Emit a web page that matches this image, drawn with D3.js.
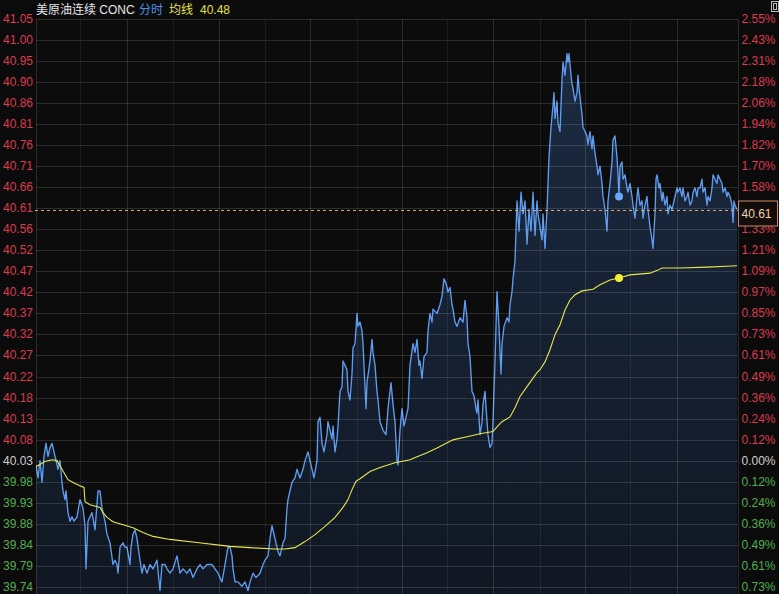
<!DOCTYPE html>
<html><head><meta charset="utf-8">
<script src="https://cdn.jsdelivr.net/npm/d3@7"></script>
<style>
html,body{margin:0;padding:0;background:#0b0b0b;}
svg{display:block;}
</style></head>
<body>
<svg id="chart" width="779" height="594"></svg>
<script>
// ---------- data ----------
const titleName = "美原油连续 CONC";
const titleMode = "分时";
const titleAvgLabel = "均线";
const prevClose = 40.03;
const levelsAbove = 21, levelsBelow = 6;
const priceTickLabels = ["41.05","41.00","40.95","40.90","40.86","40.81","40.76","40.71","40.66","40.61","40.56","40.52","40.47","40.42","40.37","40.32","40.27","40.22","40.18","40.13","40.08","40.03","39.98","39.93","39.88","39.84","39.79","39.74"];
const pctTickLabels = ["2.55%","2.43%","2.31%","2.18%","2.06%","1.94%","1.82%","1.70%","1.58%","1.46%","1.33%","1.21%","1.09%","0.97%","0.85%","0.73%","0.61%","0.49%","0.36%","0.24%","0.12%","0.00%","0.12%","0.24%","0.36%","0.49%","0.61%","0.73%"];
const sessionLength = 701;
const gridTimes = [0,44,91,137,183,229,274,321,366,411,457,504,549,594,641];
const markerTime = 583;

// [minute, price]
const priceSeries = [[0,40.02],[2,39.99],[4,40.03],[6,39.98],[8,40.04],[10,40.07],[12,40.04],[14,40.06],[16,40.07],[18,40.05],[20,40.03],[22,40.01],[24,40.03],[26,39.98],[27,39.96],[29,39.94],[30,39.96],[32,39.91],[34,39.89],[36,39.90],[38,39.89],[41,39.90],[44,39.94],[47,39.92],[49,39.88],[50,39.78],[52,39.89],[54,39.90],[56,39.91],[59,39.87],[62,39.96],[64,39.96],[66,39.92],[69,39.89],[71,39.86],[74,39.84],[77,39.79],[79,39.80],[81,39.79],[82,39.77],[84,39.83],[87,39.84],[89,39.83],[91,39.83],[94,39.79],[95,39.83],[97,39.86],[99,39.87],[101,39.85],[104,39.80],[106,39.77],[108,39.79],[111,39.77],[114,39.79],[117,39.78],[121,39.80],[124,39.73],[126,39.79],[129,39.79],[131,39.78],[134,39.77],[137,39.78],[141,39.81],[144,39.77],[147,39.78],[151,39.77],[154,39.78],[157,39.76],[161,39.78],[164,39.79],[167,39.78],[171,39.79],[176,39.79],[179,39.78],[182,39.77],[186,39.75],[189,39.79],[192,39.83],[194,39.83],[196,39.81],[197,39.78],[199,39.75],[202,39.75],[206,39.74],[209,39.75],[212,39.73],[214,39.75],[217,39.77],[220,39.76],[224,39.77],[227,39.79],[229,39.80],[232,39.81],[234,39.85],[236,39.88],[238,39.86],[240,39.84],[242,39.82],[244,39.81],[247,39.84],[249,39.85],[251,39.92],[252,39.94],[254,39.96],[256,39.98],[259,39.99],[261,40.01],[264,39.99],[267,40.01],[269,40.03],[272,40.05],[274,40.03],[276,40.01],[278,39.99],[281,40.03],[282,40.12],[284,40.13],[286,40.07],[288,40.05],[291,40.09],[292,40.12],[294,40.10],[296,40.08],[297,40.11],[299,40.05],[301,40.08],[302,40.11],[304,40.19],[306,40.20],[307,40.26],[309,40.25],[311,40.24],[312,40.19],[314,40.17],[316,40.23],[317,40.29],[319,40.30],[321,40.37],[322,40.34],[324,40.35],[326,40.33],[327,40.30],[329,40.20],[330,40.15],[331,40.21],[334,40.26],[336,40.31],[337,40.28],[339,40.25],[341,40.19],[342,40.17],[344,40.12],[347,40.10],[350,40.09],[352,40.15],[355,40.21],[357,40.16],[359,40.12],[361,40.03],[362,40.02],[364,40.10],[366,40.15],[368,40.11],[370,40.13],[372,40.15],[374,40.25],[377,40.30],[379,40.28],[381,40.31],[383,40.25],[384,40.26],[386,40.22],[388,40.27],[391,40.28],[392,40.33],[394,40.37],[396,40.35],[397,40.38],[401,40.37],[404,40.39],[406,40.41],[408,40.45],[410,40.44],[412,40.42],[414,40.43],[416,40.39],[417,40.38],[419,40.35],[421,40.34],[424,40.36],[427,40.35],[429,40.40],[431,40.36],[432,40.30],[434,40.27],[436,40.19],[438,40.18],[440,40.15],[441,40.14],[442,40.17],[444,40.09],[446,40.12],[447,40.16],[449,40.19],[451,40.12],[452,40.09],[454,40.06],[456,40.07],[457,40.12],[459,40.26],[461,40.42],[463,40.34],[465,40.23],[466,40.30],[468,40.34],[471,40.36],[473,40.35],[474,40.39],[476,40.42],[477,40.45],[479,40.49],[481,40.63],[483,40.56],[485,40.65],[487,40.60],[489,40.63],[491,40.53],[493,40.61],[495,40.56],[497,40.65],[499,40.55],[501,40.63],[502,40.60],[504,40.57],[506,40.54],[507,40.60],[509,40.52],[511,40.61],[513,40.73],[515,40.80],[517,40.85],[518,40.88],[519,40.82],[521,40.86],[522,40.81],[524,40.79],[526,40.91],[527,40.95],[529,40.92],[531,40.97],[532,40.95],[533,40.97],[535,40.92],[536,40.90],[537,40.89],[539,40.86],[541,40.88],[542,40.92],[543,40.89],[545,40.85],[546,40.83],[547,40.80],[549,40.79],[551,40.78],[552,40.76],[554,40.79],[556,40.75],[557,40.78],[559,40.74],[561,40.71],[562,40.69],[564,40.71],[566,40.67],[567,40.64],[569,40.61],[571,40.56],[572,40.63],[574,40.67],[576,40.72],[577,40.77],[579,40.78],[581,40.73],[582,40.69],[583,40.64],[584,40.71],[586,40.72],[587,40.68],[589,40.69],[591,40.66],[592,40.65],[594,40.67],[596,40.64],[597,40.62],[599,40.59],[601,40.64],[602,40.66],[604,40.62],[606,40.63],[607,40.59],[609,40.62],[611,40.64],[612,40.61],[614,40.57],[616,40.54],[617,40.52],[619,40.60],[620,40.68],[621,40.69],[623,40.66],[624,40.67],[626,40.63],[627,40.65],[629,40.62],[631,40.64],[632,40.60],[634,40.62],[636,40.61],[637,40.62],[639,40.64],[641,40.66],[642,40.65],[644,40.66],[646,40.64],[647,40.66],[649,40.63],[651,40.64],[652,40.65],[654,40.62],[656,40.63],[657,40.65],[659,40.66],[661,40.64],[662,40.66],[664,40.66],[666,40.68],[667,40.65],[669,40.66],[671,40.62],[672,40.64],[674,40.63],[676,40.66],[677,40.69],[679,40.68],[681,40.67],[682,40.69],[684,40.68],[686,40.67],[687,40.65],[689,40.66],[691,40.64],[692,40.65],[694,40.64],[696,40.62],[697,40.58],[698,40.63],[699,40.62],[701,40.61]];

// [minute, average price]
const avgSeries = [[0,40.016],[9,40.028],[16,40.032],[21,40.030],[24,40.018],[29,39.998],[32,39.986],[39,39.977],[44,39.972],[48,39.968],[49,39.935],[54,39.928],[64,39.922],[67,39.910],[71,39.899],[77,39.889],[87,39.882],[97,39.875],[107,39.864],[117,39.855],[134,39.848],[161,39.841],[194,39.832],[214,39.829],[239,39.826],[249,39.826],[259,39.829],[269,39.843],[279,39.859],[289,39.878],[299,39.899],[307,39.922],[312,39.940],[316,39.963],[320,39.982],[324,39.988],[334,40.005],[344,40.014],[359,40.025],[374,40.032],[381,40.039],[391,40.048],[401,40.059],[417,40.078],[431,40.085],[444,40.092],[457,40.097],[461,40.108],[466,40.120],[474,40.131],[479,40.152],[484,40.178],[491,40.201],[501,40.233],[504,40.240],[509,40.258],[514,40.286],[519,40.321],[524,40.344],[529,40.378],[534,40.401],[539,40.413],[546,40.422],[557,40.426],[564,40.436],[574,40.447],[583,40.452],[594,40.459],[614,40.463],[622,40.470],[626,40.475],[644,40.475],[671,40.477],[691,40.479],[701,40.480]];

// ---------- layout ----------
const W = 779, H = 594;
const plotLeft = 36, plotRight = 738, plotTop = 19, gridBottom = 586.8, plotBottom = H;
const step = (41.05 - prevClose) / levelsAbove;

const svg = d3.select("#chart");
svg.append("rect").attr("width", W).attr("height", H).attr("fill", "#0b0b0b");

const x = d3.scaleLinear().domain([0, sessionLength]).range([plotLeft, plotRight - 1]);
const y = d3.scaleLinear()
  .domain([prevClose - levelsBelow * step, prevClose + levelsAbove * step])
  .range([gridBottom, plotTop]);

const defs = svg.append("defs");
const grad = defs.append("linearGradient").attr("id", "areaGrad")
  .attr("gradientUnits", "userSpaceOnUse").attr("x1", 0).attr("x2", 0).attr("y1", 40).attr("y2", plotBottom);
grad.append("stop").attr("offset", 0).attr("stop-color", "#1c2b42");
grad.append("stop").attr("offset", 1).attr("stop-color", "#101722");
defs.append("clipPath").attr("id", "plotClip").append("rect")
  .attr("x", plotLeft).attr("y", plotTop).attr("width", plotRight - plotLeft).attr("height", plotBottom - plotTop);

svg.append("rect").attr("x", plotLeft).attr("y", plotTop).attr("width", plotRight - plotLeft).attr("height", plotBottom - plotTop).attr("fill", "#0c0c0c");

const plot = svg.append("g").attr("clip-path", "url(#plotClip)");

const area = d3.area().x(d => x(d[0])).y0(plotBottom).y1(d => y(d[1]));
plot.append("path").datum(priceSeries).attr("d", area).attr("fill", "url(#areaGrad)");

const levels = priceTickLabels.map((lab, i) => prevClose + (levelsAbove - i) * step);
const grid = svg.append("g");
grid.selectAll("line.h").data(levels).join("line")
  .attr("x1", plotLeft).attr("x2", plotRight)
  .attr("y1", d => Math.round(y(d)) + 0.5).attr("y2", d => Math.round(y(d)) + 0.5)
  .attr("stroke", "rgba(255,255,255,0.13)").attr("stroke-width", 1);
grid.selectAll("line.v").data(gridTimes).join("line")
  .attr("x1", d => Math.round(x(d)) + 0.5).attr("x2", d => Math.round(x(d)) + 0.5)
  .attr("y1", plotTop).attr("y2", plotBottom)
  .attr("stroke", "rgba(255,255,255,0.13)")
  .attr("stroke-dasharray", (d, i) => (i % 2 === 1 ? "1,1" : null));
grid.append("line").attr("x1", plotRight + 0.5).attr("x2", plotRight + 0.5).attr("y1", plotTop).attr("y2", plotBottom)
  .attr("stroke", "rgba(255,255,255,0.13)");

const line = d3.line().x(d => x(d[0])).y(d => y(d[1]));
plot.append("path").datum(priceSeries).attr("d", line)
  .attr("fill", "none").attr("stroke", "#5e9cf0").attr("stroke-width", 1.35).attr("stroke-linejoin", "round");

plot.append("path").datum(avgSeries).attr("d", line)
  .attr("fill", "none").attr("stroke", "#e8e84a").attr("stroke-width", 1.1);

const lastPrice = priceSeries[priceSeries.length - 1][1];
svg.append("line").attr("x1", plotLeft - 1).attr("x2", plotRight)
  .attr("y1", Math.round(y(lastPrice)) + 0.5).attr("y2", Math.round(y(lastPrice)) + 0.5)
  .attr("stroke", "#d8a878").attr("stroke-dasharray", "3,3").attr("stroke-width", 1);

function valueAt(series, t) {
  const i = d3.bisector(d => d[0]).left(series, t);
  if (i <= 0) return series[0][1];
  if (i >= series.length) return series[series.length - 1][1];
  const a = series[i - 1], b = series[i];
  if (b[0] === t) return b[1];
  return a[1] + (b[1] - a[1]) * (t - a[0]) / (b[0] - a[0]);
}
svg.append("circle").attr("cx", x(markerTime)).attr("cy", y(valueAt(priceSeries, markerTime)))
  .attr("r", 4).attr("fill", "#6aa6f5");
svg.append("circle").attr("cx", x(markerTime)).attr("cy", y(valueAt(avgSeries, markerTime)))
  .attr("r", 4).attr("fill", "#f2f230");

const font = "'Liberation Sans', Arial, sans-serif";
const colorFor = i => (i < levelsAbove ? "#dc3a4e" : i === levelsAbove ? "#cfcfcf" : "#4fb04f");
svg.append("g").selectAll("text").data(priceTickLabels).join("text")
  .attr("x", 33).attr("y", (d, i) => y(levels[i]))
  .attr("text-anchor", "end").attr("dominant-baseline", "central")
  .attr("font-family", font).attr("font-size", 12)
  .attr("fill", (d, i) => colorFor(i)).text(d => d);
svg.append("g").selectAll("text").data(pctTickLabels).join("text")
  .attr("x", 741.5).attr("y", (d, i) => y(levels[i]))
  .attr("text-anchor", "start").attr("dominant-baseline", "central")
  .attr("font-family", font).attr("font-size", 12)
  .attr("fill", (d, i) => colorFor(i)).text(d => d);

const ly = y(lastPrice);
svg.append("rect").attr("x", 738.5).attr("y", ly - 8.5).attr("width", 39).attr("height", 25)
  .attr("fill", "#120d0a").attr("stroke", "#c98a62").attr("stroke-width", 1);
svg.append("text").attr("x", 741.5).attr("y", ly + 4).attr("dominant-baseline", "central")
  .attr("font-family", font).attr("font-size", 12).attr("fill", "#f0d2b0").text(lastPrice.toFixed(2));

const titleFont = "'Liberation Sans', 'Noto Sans CJK SC', sans-serif";
const titleG = svg.append("g").attr("font-family", titleFont).attr("font-size", 12);
titleG.append("text").attr("x", 36).attr("y", 14).attr("fill", "#e6e6e6").text(titleName);
titleG.append("text").attr("x", 139).attr("y", 14).attr("fill", "#4d8fe6").text(titleMode);
titleG.append("text").attr("x", 169).attr("y", 14).attr("fill", "#e2e23c").text(titleAvgLabel);
titleG.append("text").attr("x", 200).attr("y", 14).attr("fill", "#e2e23c")
  .text(avgSeries[avgSeries.length - 1][1].toFixed(2));

svg.append("rect").attr("x", 771.5).attr("y", 1.5).attr("width", 7).attr("height", 10)
  .attr("fill", "none").attr("stroke", "#bdbdbd");
svg.append("rect").attr("x", 773.5).attr("y", 3.5).attr("width", 3).attr("height", 6)
  .attr("fill", "none").attr("stroke", "#bdbdbd");
</script>
</body></html>
